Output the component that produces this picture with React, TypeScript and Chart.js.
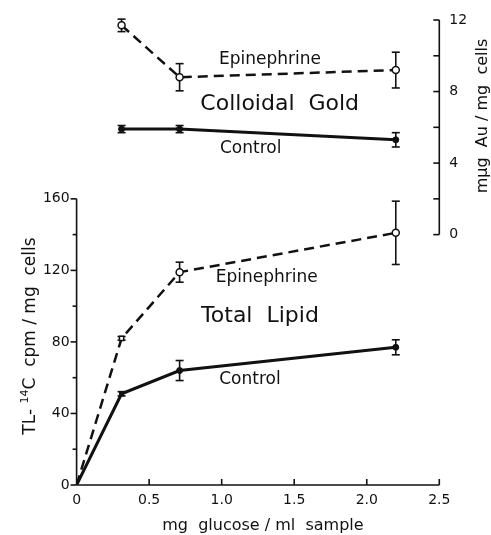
import React, { useEffect, useRef } from "react";
import { Chart, registerables } from "chart.js";

Chart.register(...registerables);

// Total lipid panel (left axis)
const glucoseLipid = [0, 0.31, 0.71, 2.2];
const lipidEpinephrine = [0, 82, 119, 141];
const lipidEpinephrineErr = [0, 1, 5.6, 17.7];
const lipidControl = [0, 51, 64, 77];
const lipidControlErr = [0, 1.2, 5.6, 4.2];

// Colloidal gold panel (right axis)
const glucoseGold = [0.31, 0.71, 2.2];
const goldEpinephrine = [11.7, 8.8, 9.2];
const goldEpinephrineErr = [0.35, 0.76, 1.0];
const goldControl = [5.9, 5.9, 5.3];
const goldControlErr = [0.2, 0.2, 0.4];

// ticks
const xTicks = [0, 0.5, 1, 1.5, 2, 2.5];
const lipidTicks = [0, 20, 40, 60, 80, 100, 120, 140, 160];
const lipidLabels = [0, 40, 80, 120, 160];
const goldTicks = [0, 2, 4, 6, 8, 10, 12];
const goldLabels = [0, 4, 8, 12];

// text annotations anchored in data coordinates
const notes = [
  { text: "Epinephrine", x: 1.31, y: 115.8, axis: "y", size: 17 },
  { text: "Total  Lipid", x: 1.264, y: 94.5, axis: "y", size: 22 },
  { text: "Control", x: 1.195, y: 58.7, axis: "y", size: 17 },
  { text: "Epinephrine", x: 1.333, y: 9.77, axis: "y2", size: 17 },
  { text: "Colloidal  Gold", x: 1.4, y: 7.3, axis: "y2", size: 22 },
  { text: "Control", x: 1.2, y: 4.8, axis: "y2", size: 17 },
];

const INK = "#111";
const FONT = "'DejaVu Sans', sans-serif";

const pts = (xs: number[], ys: number[]) => xs.map((x, i) => ({ x, y: ys[i] }));

const framePlugin = {
  id: "frame",
  beforeDatasetsDraw(chart: any) {
    const ctx = chart.ctx;
    const xs = chart.scales.x;
    const yl = chart.scales.y;
    const yr = chart.scales.y2;
    const line = (a: number, b: number, c: number, d: number) => {
      ctx.beginPath();
      ctx.moveTo(a, b);
      ctx.lineTo(c, d);
      ctx.stroke();
    };
    ctx.save();
    ctx.strokeStyle = INK;
    ctx.lineWidth = 1.6;
    const x0 = xs.getPixelForValue(0);
    const xe = xs.getPixelForValue(2.5);
    const yb = yl.getPixelForValue(0);
    // left axis
    line(x0, yb, x0, yl.getPixelForValue(160));
    lipidTicks.forEach((v) => {
      const y = yl.getPixelForValue(v);
      const len = lipidLabels.includes(v) ? 6 : 4;
      line(x0 - len, y, x0, y);
    });
    // bottom axis
    line(x0, yb, xe, yb);
    xTicks.forEach((v) => {
      if (v === 0) return;
      const x = xs.getPixelForValue(v);
      line(x, yb, x, yb - 6);
    });
    // right axis
    line(xe, yr.getPixelForValue(0), xe, yr.getPixelForValue(12));
    goldTicks.forEach((v) => {
      const y = yr.getPixelForValue(v);
      line(xe - 6, y, xe, y);
    });
    // error bars
    chart.data.datasets.forEach((ds: any) => {
      const ys = chart.scales[ds.yAxisID];
      (ds.errors || []).forEach((e: number, j: number) => {
        if (!e) return;
        const p = ds.data[j];
        const px = xs.getPixelForValue(p.x);
        const top = ys.getPixelForValue(p.y + e);
        const bot = ys.getPixelForValue(p.y - e);
        line(px, top, px, bot);
        line(px - 4, top, px + 4, top);
        line(px - 4, bot, px + 4, bot);
      });
    });
    ctx.restore();
  },
  afterDraw(chart: any) {
    const ctx = chart.ctx;
    const xs = chart.scales.x;
    ctx.save();
    ctx.fillStyle = INK;
    ctx.textAlign = "center";
    ctx.textBaseline = "middle";
    notes.forEach((n) => {
      ctx.font = `${n.size}px ${FONT}`;
      ctx.fillText(n.text, xs.getPixelForValue(n.x), chart.scales[n.axis].getPixelForValue(n.y));
    });
    // x title
    ctx.textBaseline = "alphabetic";
    ctx.font = `16px ${FONT}`;
    ctx.fillText("mg  glucose / ml  sample", (xs.left + xs.right) / 2 + 5, 530);
    // left title with superscript
    ctx.save();
    ctx.translate(35, 336);
    ctx.rotate(-Math.PI / 2);
    ctx.textAlign = "left";
    const big = `17px ${FONT}`;
    const small = `11px ${FONT}`;
    const p1 = "TL- ";
    const p2 = "14";
    const p3 = "C  cpm / mg  cells";
    ctx.font = big;
    const w1 = ctx.measureText(p1).width;
    const w3 = ctx.measureText(p3).width;
    ctx.font = small;
    const w2 = ctx.measureText(p2).width;
    let sx = -(w1 + w2 + w3) / 2;
    ctx.font = big;
    ctx.fillText(p1, sx, 0);
    sx += w1;
    ctx.font = small;
    ctx.fillText(p2, sx, -7);
    sx += w2;
    ctx.font = big;
    ctx.fillText(p3, sx, 0);
    ctx.restore();
    // right title
    ctx.save();
    ctx.translate(487, 116);
    ctx.rotate(-Math.PI / 2);
    ctx.textAlign = "center";
    ctx.font = `16px ${FONT}`;
    ctx.fillText("m\u03bcg  Au / mg  cells", 0, 0);
    ctx.restore();
    ctx.restore();
  },
};

export default function App() {
  const ref = useRef<HTMLCanvasElement | null>(null);
  useEffect(() => {
    if (!ref.current) return;
    const tickFont = { family: FONT, size: 14 };
    const chart = new Chart(ref.current, {
      type: "line",
      data: {
        datasets: [
          {
            label: "Lipid Epinephrine",
            data: pts(glucoseLipid, lipidEpinephrine),
            errors: lipidEpinephrineErr,
            yAxisID: "y",
            borderColor: INK,
            borderWidth: 2.5,
            borderDash: [10, 6],
            pointStyle: ["circle", "rect", "circle", "circle"],
            pointRadius: [0, 3, 3.5, 3.5],
            pointBackgroundColor: "#fff",
            pointBorderColor: INK,
            pointBorderWidth: 1.5,
            tension: 0,
          } as any,
          {
            label: "Lipid Control",
            data: pts(glucoseLipid, lipidControl),
            errors: lipidControlErr,
            yAxisID: "y",
            borderColor: INK,
            borderWidth: 3,
            pointStyle: ["circle", "rect", "circle", "circle"],
            pointRadius: [0, 3, 3, 3],
            pointBackgroundColor: INK,
            pointBorderColor: INK,
            pointBorderWidth: 1,
            tension: 0,
          } as any,
          {
            label: "Gold Epinephrine",
            data: pts(glucoseGold, goldEpinephrine),
            errors: goldEpinephrineErr,
            yAxisID: "y2",
            borderColor: INK,
            borderWidth: 2.5,
            borderDash: [10, 6],
            pointStyle: "circle",
            pointRadius: 3.5,
            pointBackgroundColor: "#fff",
            pointBorderColor: INK,
            pointBorderWidth: 1.5,
            tension: 0,
          } as any,
          {
            label: "Gold Control",
            data: pts(glucoseGold, goldControl),
            errors: goldControlErr,
            yAxisID: "y2",
            borderColor: INK,
            borderWidth: 3,
            pointStyle: "circle",
            pointRadius: 3,
            pointBackgroundColor: INK,
            pointBorderColor: INK,
            pointBorderWidth: 1,
            tension: 0,
          } as any,
        ],
      },
      options: {
        animation: false,
        responsive: false,
        layout: { padding: { top: 20, left: 0, right: 0, bottom: 0 } },
        plugins: { legend: { display: false }, tooltip: { enabled: false } },
        scales: {
          x: {
            type: "linear",
            min: 0,
            max: 2.5,
            grid: { display: false, drawTicks: false },
            border: { display: false },
            afterBuildTicks: (s: any) => {
              s.ticks = xTicks.map((v) => ({ value: v }));
            },
            afterFit: (s: any) => {
              s.height = 50;
            },
            ticks: {
              color: INK,
              font: tickFont,
              padding: 7,
              maxRotation: 0,
              autoSkip: false,
              callback: (v: any) => (Number(v) === 0 ? "0" : Number(v).toFixed(1)),
            },
          },
          y: {
            type: "linear",
            position: "left",
            min: 0,
            max: 260,
            grid: { display: false, drawTicks: false },
            border: { display: false },
            afterBuildTicks: (s: any) => {
              s.ticks = lipidLabels.map((v) => ({ value: v }));
            },
            afterFit: (s: any) => {
              s.width = 76.6;
            },
            ticks: { color: INK, font: tickFont, padding: 7, autoSkip: false },
          },
          y2: {
            type: "linear",
            position: "right",
            min: -14,
            max: 12,
            grid: { display: false, drawTicks: false },
            border: { display: false },
            afterBuildTicks: (s: any) => {
              s.ticks = goldLabels.map((v) => ({ value: v }));
            },
            afterFit: (s: any) => {
              s.width = 51.7;
            },
            ticks: { color: INK, font: tickFont, padding: 10, autoSkip: false },
          },
        },
      } as any,
      plugins: [framePlugin],
    });
    return () => chart.destroy();
  }, []);
  return (
    <div style={{ position: "absolute", left: 0, top: 0, width: 491, height: 535, background: "#fff" }}>
      <canvas ref={ref} width={491} height={535} style={{ display: "block" }} />
    </div>
  );
}
